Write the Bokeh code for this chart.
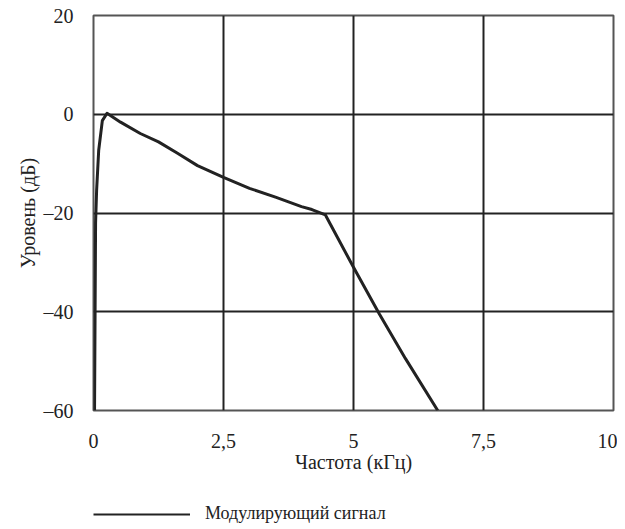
from bokeh.plotting import figure
from bokeh.layouts import column
from bokeh.models import FixedTicker, Legend, LegendItem, Range1d
from bokeh.embed import file_html
from bokeh.resources import INLINE

freq_khz = [0.02, 0.04, 0.06, 0.10, 0.17, 0.26, 0.52, 0.90, 1.25, 1.6, 2.0, 2.5, 3.0, 3.5, 4.0, 4.2, 4.46, 5.0, 5.5, 6.0, 6.62]
level_db = [-60.0, -22.0, -15.4, -7.3, -1.3, 0.2, -1.6, -3.9, -5.6, -7.8, -10.4, -12.8, -15.0, -16.8, -18.7, -19.3, -20.4, -31.0, -40.5, -49.5, -60.0]

x_ticks = [0, 2.5, 5, 7.5, 10]
x_labels = ["0", "2,5", "5", "7,5", "10"]
y_ticks = [-60, -40, -20, 0, 20]
y_labels = ["\u201360", "\u201340", "\u201320", "0", "20"]
series_name = "Модулирующий сигнал"

FONT = "Liberation Serif"
FS = "20px"
INK = "#222222"

p = figure(width=617, height=480, output_backend="svg", toolbar_location=None,
           x_range=Range1d(0, 10), y_range=Range1d(-60, 20),
           min_border_left=93, min_border_right=4, min_border_top=15, min_border_bottom=70)

p.outline_line_color = "#555555"
p.outline_line_width = 2
p.background_fill_color = "white"
p.border_fill_color = "white"

for ax in (p.xaxis, p.yaxis):
    ax.axis_line_color = None
    ax.major_tick_line_color = None
    ax.minor_tick_line_color = None
    ax.major_tick_out = 0
    ax.major_tick_in = 0
    ax.minor_tick_out = 0
    ax.minor_tick_in = 0
    ax.major_label_text_font = FONT
    ax.major_label_text_font_size = FS
    ax.major_label_text_color = INK
    ax.axis_label_text_font = FONT
    ax.axis_label_text_font_size = FS
    ax.axis_label_text_font_style = "normal"
    ax.axis_label_text_color = INK

p.xaxis.ticker = FixedTicker(ticks=x_ticks)
p.xaxis.major_label_overrides = {t: l for t, l in zip(x_ticks, x_labels)}
p.yaxis.ticker = FixedTicker(ticks=y_ticks)
p.yaxis.major_label_overrides = {t: l for t, l in zip(y_ticks, y_labels)}
p.xaxis.major_label_standoff = 23
p.yaxis.major_label_standoff = 20
p.xaxis.axis_label = "Частота (кГц)"
p.yaxis.axis_label = "Уровень (дБ)"
p.xaxis.axis_label_standoff = 0
p.yaxis.axis_label_standoff = 2

p.grid.grid_line_color = INK
p.grid.grid_line_width = 2
p.xgrid.ticker = FixedTicker(ticks=x_ticks[1:-1])
p.ygrid.ticker = FixedTicker(ticks=y_ticks[1:-1])

p.line(freq_khz, level_db, line_color=INK, line_width=3, line_join="round")

# Legend strip below the chart (its line is out of view; only the legend shows)
pl = figure(width=617, height=49, output_backend="svg", toolbar_location=None,
            x_range=Range1d(100, 101), y_range=Range1d(100, 101),
            x_axis_location=None, y_axis_location=None,
            min_border_left=93, min_border_right=4, min_border_top=0, min_border_bottom=0)
pl.grid.visible = False
pl.outline_line_color = None
pl.background_fill_color = "white"
pl.border_fill_color = "white"
lr = pl.line(freq_khz, level_db, line_color=INK, line_width=2)

legend = Legend(items=[LegendItem(label=series_name, renderers=[lr])],
                orientation="horizontal", location=(0, 5),
                label_text_font=FONT, label_text_font_size="18px", label_text_color=INK,
                glyph_width=97, glyph_height=16, label_standoff=15,
                border_line_color=None, background_fill_color=None,
                padding=0, margin=0)
pl.add_layout(legend, "center")

layout = column(p, pl, spacing=0)
open("out.html", "w").write(file_html(layout, INLINE))
